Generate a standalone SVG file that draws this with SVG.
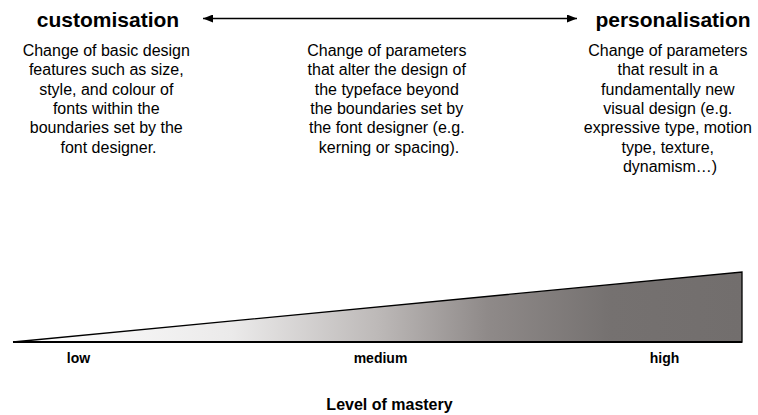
<svg xmlns="http://www.w3.org/2000/svg" width="758" height="415" viewBox="0 0 758 415">
  <style>
    .title { font-family: "Liberation Sans", Arial, sans-serif; font-weight: bold; font-size: 21px; fill: #000; text-anchor: middle; }
    .body { font-family: "Liberation Sans", Arial, sans-serif; font-size: 16px; fill: #000; text-anchor: middle; }
    .axis { font-family: "Liberation Sans", Arial, sans-serif; font-weight: bold; font-size: 14px; fill: #000; text-anchor: middle; }
    .caption { font-family: "Liberation Sans", Arial, sans-serif; font-weight: bold; font-size: 16px; fill: #000; text-anchor: middle; }
    .line { stroke: #000; stroke-width: 1.3; fill: none; }
  </style>
  <defs>
    <marker id="head" viewBox="0 0 10 8" refX="10" refY="4" markerWidth="10" markerHeight="8" markerUnits="userSpaceOnUse" orient="auto-start-reverse">
      <path d="M0,0 L10,4 L0,8 Z" fill="#000"/>
    </marker>
    <linearGradient id="ramp" x1="13" y1="0" x2="742" y2="0" gradientUnits="userSpaceOnUse">
      <stop offset="0" stop-color="#ffffff"/>
      <stop offset="0.3" stop-color="#ebeaea"/>
      <stop offset="0.5" stop-color="#bdb9b8"/>
      <stop offset="0.65" stop-color="#8f8a89"/>
      <stop offset="0.82" stop-color="#757170"/>
      <stop offset="1" stop-color="#726e6d"/>
    </linearGradient>
  </defs>

  <g id="connectors">
    <line class="line" x1="203" y1="18.5" x2="577" y2="18.5" marker-start="url(#head)" marker-end="url(#head)"/>
  </g>

  <g id="customisation">
    <text class="title" x="108" y="27">customisation</text>
    <text class="body" x="108.5">
      <tspan x="108.5" y="56">Change of basic design</tspan>
      <tspan x="108.5" y="75.3">features such as size,</tspan>
      <tspan x="108.5" y="94.6">style, and colour of</tspan>
      <tspan x="108.5" y="113.9">fonts within the</tspan>
      <tspan x="108.5" y="133.2">boundaries set by the</tspan>
      <tspan x="108.5" y="152.5">font designer.</tspan>
    </text>
  </g>

  <g id="middle">
    <text class="body" x="389">
      <tspan x="389" y="56">Change of parameters</tspan>
      <tspan x="389" y="75.3">that alter the design of</tspan>
      <tspan x="389" y="94.6">the typeface beyond</tspan>
      <tspan x="389" y="113.9">the boundaries set by</tspan>
      <tspan x="389" y="133.2">the font designer (e.g.</tspan>
      <tspan x="389" y="152.5">kerning or spacing).</tspan>
    </text>
  </g>

  <g id="personalisation">
    <text class="title" x="673" y="27">personalisation</text>
    <text class="body" x="670">
      <tspan x="670" y="56">Change of parameters</tspan>
      <tspan x="670" y="75.3">that result in a</tspan>
      <tspan x="670" y="94.6">fundamentally new</tspan>
      <tspan x="670" y="113.9">visual design (e.g.</tspan>
      <tspan x="670" y="133.2">expressive type, motion</tspan>
      <tspan x="670" y="152.5">type, texture,</tspan>
      <tspan x="670" y="171.8">dynamism…)</tspan>
    </text>
  </g>

  <g id="mastery-scale">
    <polygon points="13,342 742,272 742,342" fill="url(#ramp)" stroke="#000" stroke-width="1.3" stroke-linejoin="miter"/>
    <line x1="13" y1="342" x2="742" y2="342" stroke="#000" stroke-width="2"/>
    <text class="axis" x="78.5" y="363">low</text>
    <text class="axis" x="380.5" y="363">medium</text>
    <text class="axis" x="664.5" y="363">high</text>
    <text class="caption" x="389.5" y="410">Level of mastery</text>
  </g>
</svg>
